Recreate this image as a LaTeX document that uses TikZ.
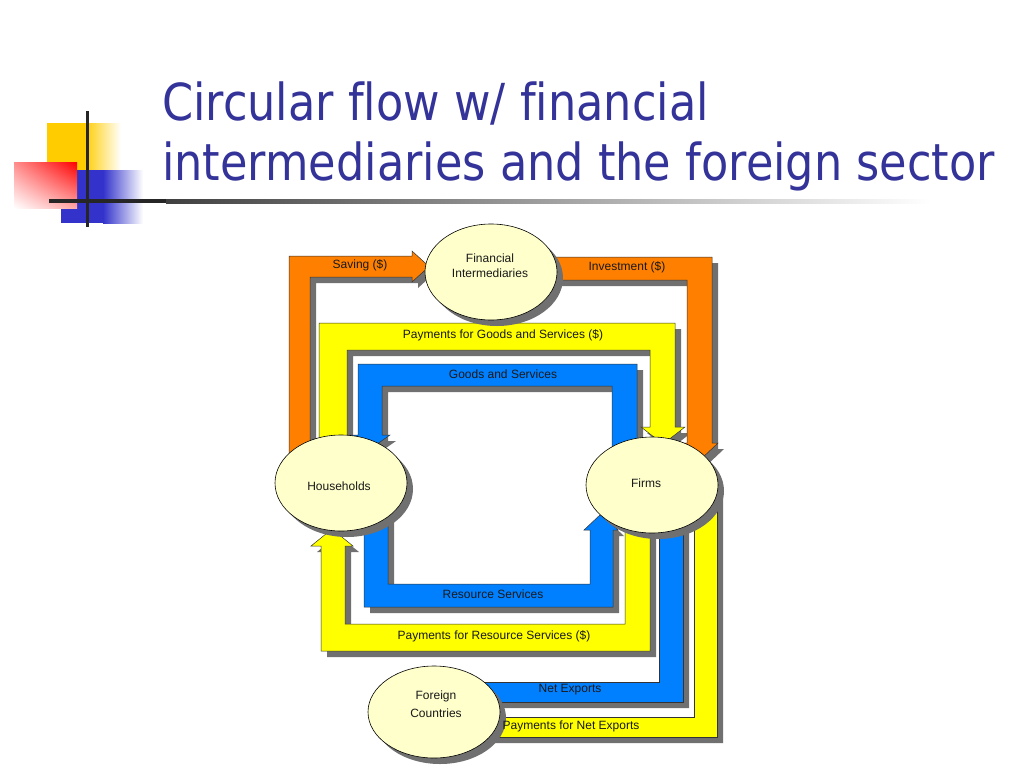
\documentclass[tikz,border=0pt]{standalone}
\usepackage{fontspec}
\setmainfont{Liberation Sans}
\newfontfamily\titlefont[Ligatures=NoCommon]{DejaVu Sans}
\usetikzlibrary{shapes.geometric,shadings}
\definecolor{bandorange}{RGB}{255,128,0}
\definecolor{bandyellow}{RGB}{255,255,0}
\definecolor{bandblue}{RGB}{0,128,255}
\definecolor{blobfill}{RGB}{255,255,204}
\definecolor{shadowgray}{RGB}{112,112,112}
\definecolor{titleblue}{RGB}{51,51,153}
\definecolor{decoyellow}{RGB}{255,204,0}
\definecolor{decoblue}{RGB}{51,51,204}
\newcommand\flowbands[1]{%
  % Saving
  \path[fill=bandorange,band,#1] (289,470) -- (289,256) -- (412,256) -- (412,251) -- (429,266.5) -- (412,282) -- (412,277) -- (310,277) -- (310,470) -- cycle;
  % Investment
  \path[fill=bandorange,band,#1] (540,257) -- (712,257) -- (712,443) -- (718,443) -- (700,460) -- (682,443) -- (687,443) -- (687,280) -- (540,280) -- cycle;
  % Payments for goods and services
  \path[fill=bandyellow,band,#1] (319,470) -- (319,323) -- (675,323) -- (675,427) -- (685,427) -- (663,444) -- (641,427) -- (650,427) -- (650,350) -- (347,350) -- (347,470) -- cycle;
  % Goods and services
  \path[fill=bandblue,band,#1] (612,470) -- (612,386) -- (382,386) -- (382,435) -- (390,435) -- (370,449) -- (350,435) -- (358,435) -- (358,364) -- (637,364) -- (637,470) -- cycle;
  % Resource services
  \path[fill=bandblue,band,#1] (364,500) -- (364,607) -- (613,607) -- (613,530) -- (618,530) -- (601,514) -- (584,530) -- (590,530) -- (590,584) -- (388,584) -- (388,500) -- cycle;
  % Payments for resource services
  \path[fill=bandyellow,band,#1] (650,500) -- (650,651) -- (321,651) -- (321,546) -- (311,546) -- (332,529) -- (353,546) -- (345,546) -- (345,624) -- (625,624) -- (625,500) -- cycle;
  % Net exports
  \path[fill=bandblue,band,#1] (683,500) -- (683,702) -- (470,702) -- (470,682) -- (659,682) -- (659,500) -- cycle;
  % Payments for net exports
  \path[fill=bandyellow,band,#1] (717,492) -- (717,737) -- (470,737) -- (470,717) -- (694,717) -- (694,492) -- cycle;
}
\begin{document}
\begin{tikzpicture}[x=1pt,y=-1pt,
  band/.style={draw=black!80, line width=0.5pt, line join=miter},
  bandshadow/.style={fill=shadowgray, draw=none, shift={(6,6)}},
  blob/.style={ellipse, draw=black, line width=0.6pt, fill=blobfill, minimum width=132pt, minimum height=96pt, inner sep=0pt},
  blobshadow/.style={ellipse, fill=shadowgray, minimum width=132pt, minimum height=96pt, inner sep=0pt},
  lbl/.style={font=\fontsize{12}{14}\selectfont, text=black!90, inner sep=0pt, align=center},
  titlesty/.style={font=\titlefont\fontsize{51}{60}\selectfont, text=titleblue, inner sep=0pt},
]
\useasboundingbox (0,0) rectangle (1024,768);
\fill[white] (0,0) rectangle (1024,768);

% corner decoration
\fill[decoyellow] (47,123) rectangle (84,170);
\shade[left color=decoyellow, right color=white] (84,123) rectangle (121,170);
\fill[decoblue] (61,170) rectangle (103,223);
\shade[left color=decoblue, right color=white] (103,170) rectangle (143,223);
\shade[upper right=red, upper left=red!45, lower right=red!35, lower left=white] (14,162) rectangle (77,208);
\fill[black!85] (85.5,111) rectangle (88.5,227);
\fill[black!85] (49,199) rectangle (166,203);
\shade[left color=black!75, right color=white] (166,199) rectangle (930,203);

% title
\node[titlesty, anchor=base west] (title1) at (162,120) {\scalebox{0.875}[1]{Circular flow w/ financial}};
\node[titlesty, anchor=base west] (title2) at (162,180) {\scalebox{0.875}[1]{intermediaries and the foreign sector}};

% bands
\flowbands{bandshadow}
\flowbands{}

% ellipses
\node[blobshadow] (finsh) at (497,278) {};
\node[blob] (fin) at (491,272) {};
\node[blobshadow] (hhsh) at (347,489) {};
\node[blob] (hh) at (341,483) {};
\node[blobshadow] (firmsh) at (658,491) {};
\node[blob] (firm) at (652,485) {};
\node[blobshadow, minimum height=92pt] (forsh) at (440,718) {};
\node[blob, minimum height=92pt] (for) at (434,712) {};

% ellipse texts
\node[lbl, font=\fontsize{12}{15}\selectfont] (fintxt) at (490,266) {Financial\\Intermediaries};
\node[lbl] (hhtxt) at (339,486) {Households};
\node[lbl] (firmtxt) at (646,483) {Firms};
\node[lbl, font=\fontsize{12}{18}\selectfont] (fortxt) at (436,704) {Foreign\\Countries};

% band labels
\node[lbl] (lsav) at (360,265) {Saving (\$)};
\node[lbl] (linv) at (627,267) {Investment (\$)};
\node[lbl] (lpgs) at (503,335) {Payments for Goods and Services (\$)};
\node[lbl] (lgs) at (503,374) {Goods and Services};
\node[lbl] (lrs) at (493,594) {Resource Services};
\node[lbl] (lprs) at (494,636) {Payments for Resource Services (\$)};
\node[lbl] (lnx) at (570,690) {Net Exports};
\node[lbl] (lpnx) at (571,726) {Payments for Net Exports};
\end{tikzpicture}
\end{document}
